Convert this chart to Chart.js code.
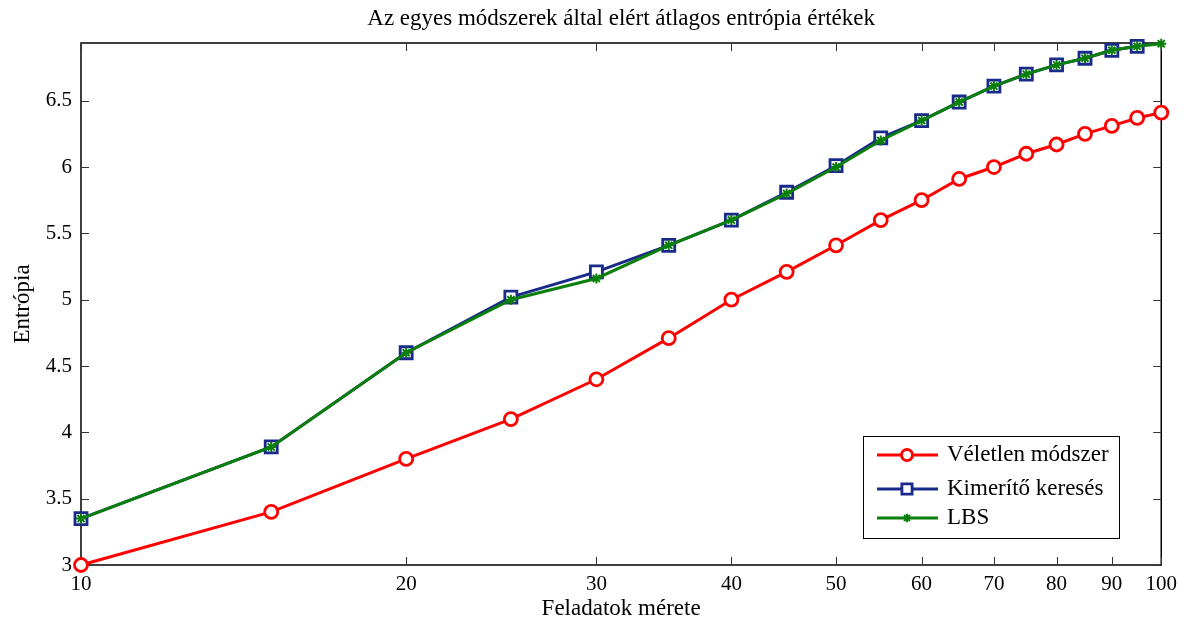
<!DOCTYPE html>
<html>
<head>
<meta charset="utf-8">
<script src="https://cdn.jsdelivr.net/npm/chart.js@4.4.1/dist/chart.umd.min.js"></script>
<style>
    html, body { margin: 0; padding: 0; background: #fff; }
    #wrap { width: 1184px; height: 624px; }
</style>
</head>
<body>
<div id="wrap"><canvas id="chart"></canvas></div>
<script>
// Adatok (leolvasva az ábráról)
const sizes = [10, 15, 20, 25, 30, 35, 40, 45, 50, 55, 60, 65, 70, 75, 80, 85, 90, 95, 100];
const veletlen = [3.0, 3.4, 3.8, 4.1, 4.4, 4.71, 5.0, 5.21, 5.41, 5.6, 5.75, 5.91, 6.0, 6.1, 6.17, 6.25, 6.31, 6.37, 6.41];
const kimerito = [3.35, 3.89, 4.6, 5.02, 5.21, 5.41, 5.6, 5.81, 6.01, 6.22, 6.35, 6.49, 6.61, 6.7, 6.77, 6.82, 6.88, 6.91];
const lbs = [3.35, 3.89, 4.6, 5.0, 5.16, 5.41, 5.6, 5.8, 6.0, 6.2, 6.35, 6.49, 6.61, 6.7, 6.77, 6.82, 6.88, 6.91, 6.93];
const xTicks = [10, 20, 30, 40, 50, 60, 70, 80, 90, 100];
const yTicks = [3, 3.5, 4, 4.5, 5, 5.5, 6, 6.5];

const titleText = 'Az egyes módszerek által elért átlagos entrópia értékek';
const FONT = "'Liberation Serif', 'Times New Roman', serif";

function toPoints(values) {
    return values.map((v, i) => ({ x: sizes[i], y: v }));
}

// Tengelyek, belső osztásjelek, cím és jelmagyarázat rajzolása
const matlabAxes = {
    id: 'matlabAxes',
    beforeDatasetsDraw(chart) {
        const ctx = chart.ctx;
        const a = chart.chartArea;
        const xs = chart.scales.x;
        const ys = chart.scales.y;
        ctx.save();
        ctx.strokeStyle = '#000';
        ctx.lineWidth = 1.5;
        ctx.strokeRect(a.left, a.top, a.right - a.left, a.bottom - a.top);

        ctx.lineWidth = 1;
        ctx.strokeStyle = '#333';
        const tl = 8;
        xTicks.forEach(v => {
            const px = Math.round(xs.getPixelForValue(v)) + 0.5;
            ctx.beginPath();
            ctx.moveTo(px, a.bottom); ctx.lineTo(px, a.bottom - tl);
            ctx.moveTo(px, a.top); ctx.lineTo(px, a.top + tl);
            ctx.stroke();
        });
        yTicks.forEach(v => {
            const py = Math.round(ys.getPixelForValue(v)) + 0.5;
            ctx.beginPath();
            ctx.moveTo(a.left, py); ctx.lineTo(a.left + tl, py);
            ctx.moveTo(a.right, py); ctx.lineTo(a.right - tl, py);
            ctx.stroke();
        });

        // Cím
        ctx.fillStyle = '#000';
        ctx.font = '23px ' + FONT;
        ctx.textAlign = 'center';
        ctx.textBaseline = 'middle';
        ctx.fillText(titleText, (a.left + a.right) / 2, 19);
        ctx.restore();
    },
    afterDraw(chart) {
        const ctx = chart.ctx;
        ctx.save();
        // Jelmagyarázat
        const lx = 863, ly = 436, lw = 256, lh = 102;
        ctx.fillStyle = '#fff';
        ctx.fillRect(lx, ly, lw, lh);
        ctx.strokeStyle = '#000';
        ctx.lineWidth = 1;
        ctx.strokeRect(lx + 0.5, ly + 0.5, lw, lh);
        const rows = [455, 489, 518];
        chart.data.datasets.forEach((ds, i) => {
            const y = rows[i];
            ctx.strokeStyle = ds.borderColor;
            ctx.lineWidth = ds.borderWidth;
            ctx.beginPath();
            ctx.moveTo(877, y); ctx.lineTo(938, y);
            ctx.stroke();
            ctx.fillStyle = ds.pointBackgroundColor;
            ctx.strokeStyle = ds.borderColor;
            ctx.lineWidth = ds.pointBorderWidth;
            Chart.helpers.drawPoint(ctx, {
                pointStyle: ds.pointStyle,
                radius: ds.pointRadius * 0.85,
                borderWidth: ds.pointBorderWidth,
                rotation: 0
            }, 907, y);
            ctx.fillStyle = '#000';
            ctx.font = '23px ' + FONT;
            ctx.textAlign = 'left';
            ctx.textBaseline = 'middle';
            ctx.fillText(ds.label, 947, y);
        });
        ctx.restore();
    }
};

const ctx = document.getElementById('chart').getContext('2d');
new Chart(ctx, {
    type: 'line',
    data: {
        datasets: [
            {
                label: 'Véletlen módszer',
                data: toPoints(veletlen),
                borderColor: '#ff0000',
                borderWidth: 3,
                pointStyle: 'circle',
                pointRadius: 6.5,
                pointBorderWidth: 2.8,
                pointBackgroundColor: '#fff',
                clip: false,
                order: 2
            },
            {
                label: 'Kimerítő keresés',
                data: toPoints(kimerito),
                borderColor: '#1a2a8a',
                borderWidth: 3,
                pointStyle: 'rect',
                pointRadius: 8.5,
                pointBorderWidth: 2.8,
                pointBackgroundColor: '#fff',
                clip: false,
                order: 1
            },
            {
                label: 'LBS',
                data: toPoints(lbs),
                borderColor: '#0b7f0b',
                borderWidth: 3,
                pointStyle: 'star',
                pointRadius: 5,
                pointBorderWidth: 2,
                pointBackgroundColor: '#0b7f0b',
                clip: false,
                order: 0
            }
        ]
    },
    options: {
        responsive: true,
        maintainAspectRatio: false,
        animation: false,
        layout: { padding: { top: 43, right: 22, left: 0, bottom: 0 } },
        plugins: {
            legend: { display: false },
            title: { display: false },
            tooltip: { enabled: false }
        },
        scales: {
            x: {
                type: 'logarithmic',
                min: 10,
                max: 100,
                afterBuildTicks: s => { s.ticks = xTicks.map(v => ({ value: v })); },
                afterFit: s => { s.height = 59; },
                grid: { display: false, drawTicks: false },
                border: { display: false },
                ticks: {
                    autoSkip: false,
                    maxRotation: 0,
                    padding: 7,
                    color: '#000',
                    font: { family: FONT, size: 21 },
                    callback: v => String(v)
                },
                title: {
                    display: true,
                    text: 'Feladatok mérete',
                    color: '#000',
                    font: { family: FONT, size: 23 },
                    padding: { top: 0, bottom: 1 }
                }
            },
            y: {
                type: 'linear',
                min: 3,
                max: 6.935,
                afterBuildTicks: s => { s.ticks = yTicks.map(v => ({ value: v })); },
                afterFit: s => { s.width = 81; },
                grid: { display: false, drawTicks: false },
                border: { display: false },
                ticks: {
                    padding: 9,
                    color: '#000',
                    font: { family: FONT, size: 21 },
                    callback: v => String(v)
                },
                title: {
                    display: true,
                    text: 'Entrópia',
                    color: '#000',
                    font: { family: FONT, size: 23 },
                    padding: { top: 9, bottom: 0 }
                }
            }
        }
    },
    plugins: [matlabAxes]
});
</script>
</body>
</html>
